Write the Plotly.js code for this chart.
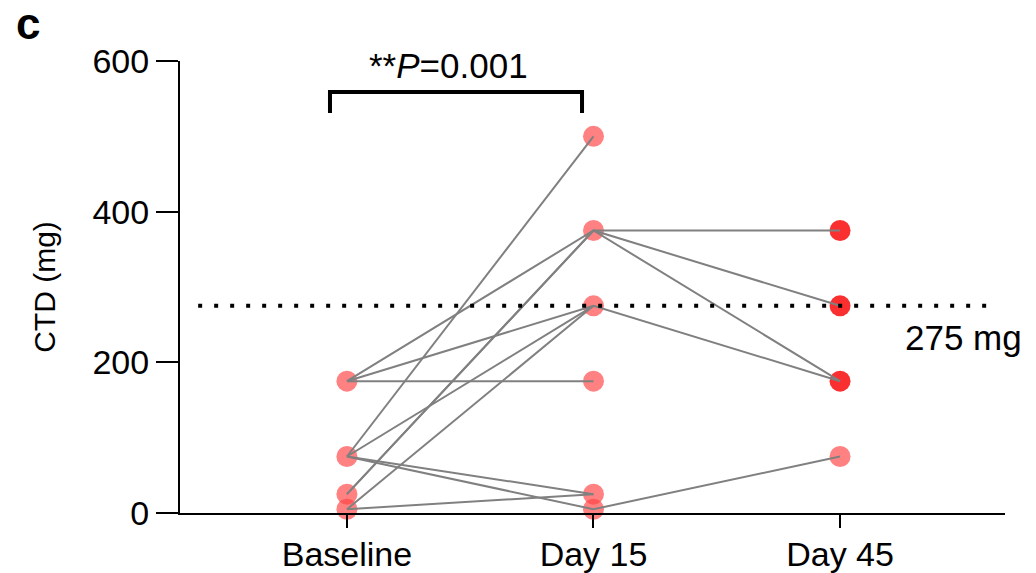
<!DOCTYPE html>
<html>
<head>
<meta charset="utf-8">
<script src="https://cdn.plot.ly/plotly-3.0.1.min.js"></script>
<style>html,body{margin:0;padding:0;background:#fff;}#chart{width:1036px;height:573px;}</style>
</head>
<body>
<div id="chart"></div>
<script>
// Time points (x categories)
const timepoints = ['Baseline', 'Day 15', 'Day 45'];
// Per-subject CTD values (mg); null = no value at that time point
const ctdBaseline = [175, 175, 175, 75, 75, 75, 75, 25, 25, 5, 5];
const ctdDay15    = [175, 375, 275, 500, 275, 25, 5, 375, 375, 275, 25];
const ctdDay45    = [null, 375, 175, null, null, null, 75, 275, 175, null, null];
// Y-axis ticks
const yTickVals = [0, 200, 400, 600];
// Reference threshold
const thresholdValue = 275;
const thresholdLabel = '275 mg';
const pValueText = '**<i>P</i>=0.001';
const panelLabel = 'c';

const lineColor = 'rgb(128,128,128)';
const lightMarker = 'rgba(255,70,70,0.68)';
const darkMarker = 'rgba(250,30,30,0.92)';

const traces = [];

// Markers: unique values at each time point
const series = [ctdBaseline, ctdDay15, ctdDay45];
const mx = [], my = [], mc = [];
series.forEach((vals, t) => {
  const uniq = [...new Set(vals.filter(v => v !== null))];
  uniq.forEach(v => {
    mx.push(timepoints[t]);
    my.push(v);
    mc.push(t === 2 && v > 100 ? darkMarker : lightMarker);
  });
});
traces.push({
  type: 'scatter', mode: 'markers', x: mx, y: my,
  marker: {size: 21, color: mc, line: {width: 0}},
  hoverinfo: 'skip', showlegend: false, cliponaxis: false
});

// Subject lines
for (let i = 0; i < ctdBaseline.length; i++) {
  traces.push({
    type: 'scatter', mode: 'lines',
    x: timepoints,
    y: [ctdBaseline[i], ctdDay15[i], ctdDay45[i]],
    connectgaps: false,
    line: {color: lineColor, width: 2},
    hoverinfo: 'skip', showlegend: false
  });
}

const fontFam = '"Liberation Sans", Arial, Helvetica, sans-serif';

const layout = {
  width: 1036, height: 573,
  margin: {l: 180, r: 31, t: 61, b: 60},
  paper_bgcolor: '#fff', plot_bgcolor: '#fff',
  showlegend: false,
  font: {family: fontFam, color: '#000', size: 30},
  xaxis: {
    type: 'category',
    categoryorder: 'array', categoryarray: timepoints,
    range: [-0.677, 2.669],
    showgrid: false, zeroline: false,
    showline: true, linecolor: '#000', linewidth: 2,
    ticks: 'outside', ticklen: 13, tickwidth: 2, tickcolor: '#000',
    ticklabelstandoff: -3,
    tickfont: {family: fontFam, size: 34, color: '#000'},
    fixedrange: true
  },
  yaxis: {
    range: [0, 600],
    tickvals: yTickVals,
    showgrid: false, zeroline: false,
    showline: true, linecolor: '#000', linewidth: 2,
    ticks: 'outside', ticklen: 22, tickwidth: 2, tickcolor: '#000',
    tickfont: {family: fontFam, size: 34, color: '#000'},
    title: {text: 'CTD (mg)', font: {family: fontFam, size: 30, color: '#000'}, standoff: 28},
    fixedrange: true
  },
  shapes: [
    {type: 'line', xref: 'paper', yref: 'y', x0: 0.022, x1: 0.982,
     y0: thresholdValue, y1: thresholdValue,
     line: {color: '#000', width: 4, dash: '4px,12px'}},
    {type: 'path', xref: 'paper', yref: 'y',
     path: 'M 0.1818 531 L 0.1818 559 L 0.4873 559 L 0.4873 531',
     line: {color: '#000', width: 4}}
  ],
  annotations: [
    {xref: 'paper', yref: 'y', x: 0.950, y: 233, text: thresholdLabel, showarrow: false,
     font: {family: fontFam, size: 35, color: '#000'}, xanchor: 'center', yanchor: 'middle'},
    {xref: 'paper', yref: 'y', x: 0.325, y: 594, text: pValueText, showarrow: false,
     font: {family: fontFam, size: 35, color: '#000'}, xanchor: 'center', yanchor: 'middle'},
    {xref: 'paper', yref: 'paper', x: -0.184, y: 1.082, text: '<b>' + panelLabel + '</b>', showarrow: false,
     font: {family: fontFam, size: 44, color: '#000'}, xanchor: 'center', yanchor: 'middle'}
  ]
};

Plotly.newPlot('chart', traces, layout, {staticPlot: true, displayModeBar: false});
</script>
</body>
</html>
